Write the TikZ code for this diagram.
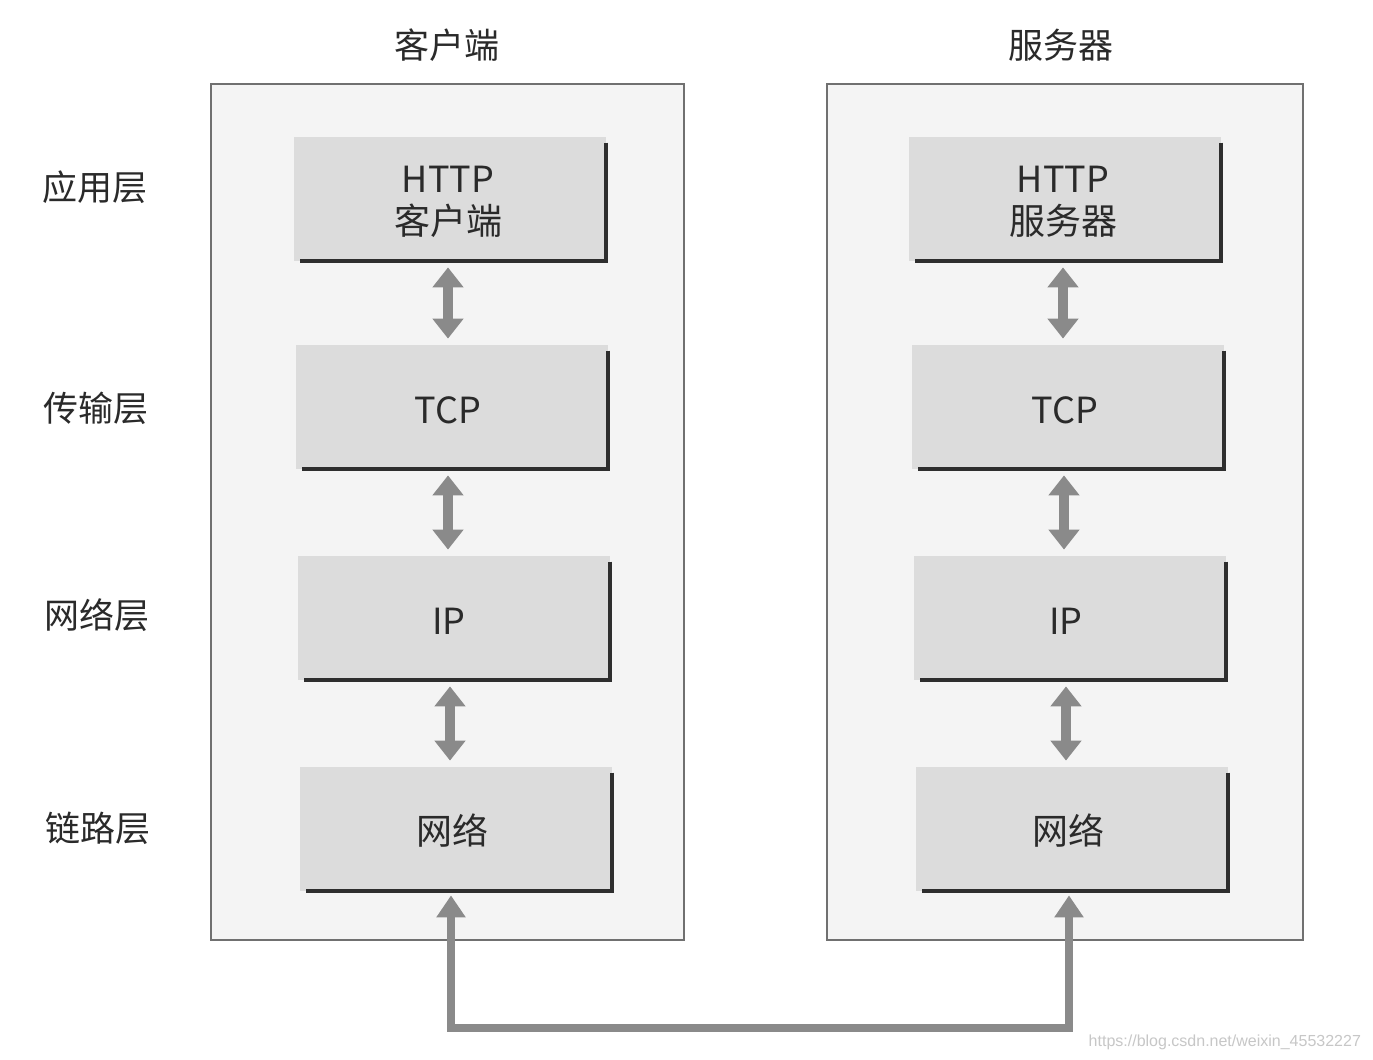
\documentclass[tikz,border=0pt]{standalone}
\usepackage{fontspec}
\setmainfont{Noto Sans CJK SC}
\newfontfamily\wmfont{Liberation Sans}
\usetikzlibrary{arrows.meta}
\definecolor{panelfill}{HTML}{F4F4F4}
\definecolor{panelline}{HTML}{707070}
\definecolor{boxfill}{HTML}{DCDCDC}
\definecolor{boxedge}{HTML}{2E2E2E}
\definecolor{arrowgray}{HTML}{8A8A8A}
\definecolor{txt}{HTML}{2A2A2A}
\tikzset{
  x=0.5pt, y=-0.5pt,
  panel/.style={draw=panelline, fill=panelfill, line width=0.6pt},
  layerbox/.style={fill=boxfill, minimum width=156pt, minimum height=62pt, inner sep=0pt, align=center, text=txt, font=\fontsize{18}{21}\selectfont},
  label/.style={text=txt, font=\fontsize{17.5}{21}\selectfont},
  shadowline/.style={draw=boxedge, line width=2pt},
  dbl/.style={draw=arrowgray, line width=5pt, {Triangle[width=15pt,length=10pt]}-{Triangle[width=15pt,length=10pt]}},
  link/.style={draw=arrowgray, line width=4pt, {Triangle[width=14pt,length=11pt]}-{Triangle[width=14pt,length=11pt]}}
}
\begin{document}
\begin{tikzpicture}
\useasboundingbox (0,0) rectangle (1373,1060);
\fill[white] (0,0) rectangle (1373,1060);
% panels
\node[panel, minimum width=236.5pt, minimum height=428pt, inner sep=0pt] (lp) at (447.5,512) {};
\node[panel, minimum width=238pt, minimum height=428pt, inner sep=0pt] (rp) at (1065,512) {};
% headers
\node[label] (hc) at (447,45) {客户端};
\node[label] (hs) at (1061,45) {服务器};
% layer labels
\node[label] (l1) at (95,187) {应用层};
\node[label] (l2) at (96,408) {传输层};
\node[label] (l3) at (97,615) {网络层};
\node[label] (l4) at (98,828) {链路层};
% left boxes
\node[layerbox] (a1) at (450,199) {};
\node[layerbox] (a2) at (452,407) {};
\node[layerbox] (a3) at (454,618) {};
\node[layerbox] (a4) at (456,829) {};
% right boxes
\node[layerbox] (b1) at (1065,199) {};
\node[layerbox] (b2) at (1068,407) {};
\node[layerbox] (b3) at (1070,618) {};
\node[layerbox] (b4) at (1072,829) {};
% box texts
\node[layerbox, fill=none, minimum width=0pt, minimum height=0pt] (ta1) at (448,202) {HTTP\\客户端};
\node[layerbox, fill=none, minimum width=0pt, minimum height=0pt] (ta2) at (448,410) {TCP};
\node[layerbox, fill=none, minimum width=0pt, minimum height=0pt] (ta3) at (449,621) {IP};
\node[layerbox, fill=none, minimum width=0pt, minimum height=0pt] (ta4) at (452,831) {网络};
\node[layerbox, fill=none, minimum width=0pt, minimum height=0pt] (tb1) at (1063,202) {HTTP\\服务器};
\node[layerbox, fill=none, minimum width=0pt, minimum height=0pt] (tb2) at (1065,410) {TCP};
\node[layerbox, fill=none, minimum width=0pt, minimum height=0pt] (tb3) at (1066,621) {IP};
\node[layerbox, fill=none, minimum width=0pt, minimum height=0pt] (tb4) at (1068,831) {网络};
% shadow edges
\foreach \n in {a1,a2,a3,a4,b1,b2,b3,b4}{
  \draw[shadowline] ([yshift=-3pt]\n.north east) -- (\n.south east) -- ([xshift=3pt]\n.south west);
}
% double arrows (vertical)
\draw[dbl] ([yshift=-3pt,xshift=-1pt]a1.south) -- ([yshift=3pt,xshift=-1pt]a1.south |- a2.north);
\draw[dbl] ([yshift=-3pt,xshift=-2pt]a2.south) -- ([yshift=3pt,xshift=-2pt]a2.south |- a3.north);
\draw[dbl] ([yshift=-3pt,xshift=-2pt]a3.south) -- ([yshift=3pt,xshift=-2pt]a3.south |- a4.north);
\draw[dbl] ([yshift=-3pt,xshift=-1pt]b1.south) -- ([yshift=3pt,xshift=-1pt]b1.south |- b2.north);
\draw[dbl] ([yshift=-3pt,xshift=-2pt]b2.south) -- ([yshift=3pt,xshift=-2pt]b2.south |- b3.north);
\draw[dbl] ([yshift=-3pt,xshift=-2pt]b3.south) -- ([yshift=3pt,xshift=-2pt]b3.south |- b4.north);
% bottom link
\coordinate (c1) at (451,1028);
\coordinate (c2) at (1069,1028);
\draw[link] ([yshift=-2pt]c1 |- a4.south) -- (c1) -- (c2) -- ([yshift=-2pt]c2 |- b4.south);
% watermark
\node[text=black!22, font=\wmfont\fontsize{8}{10}\selectfont, anchor=east] (wm) at (1368,1042) {https://blog.csdn.net/weixin\_45532227};
\end{tikzpicture}
\end{document}
